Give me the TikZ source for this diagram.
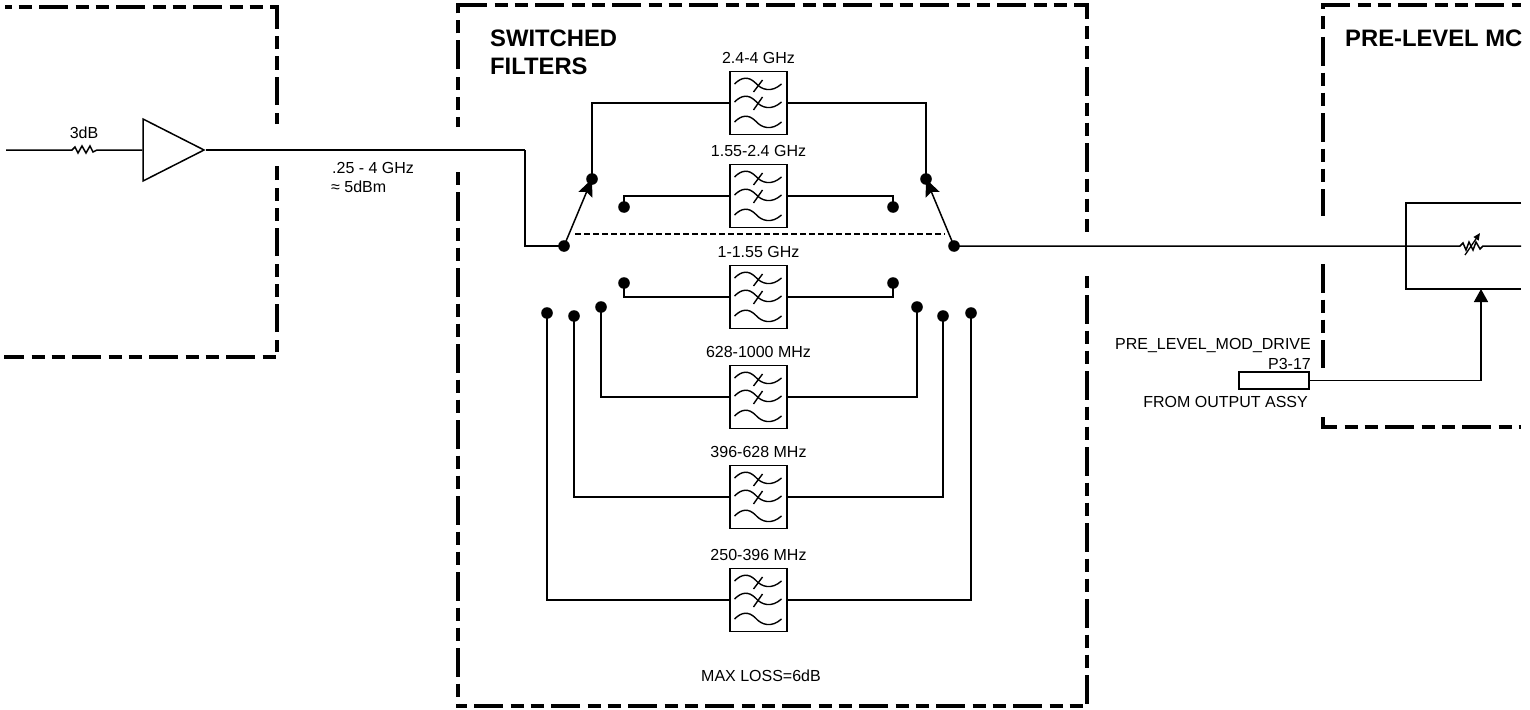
\documentclass[tikz,border=0pt]{standalone}
\usepackage{fontspec}
\setmainfont{Liberation Sans}
\usetikzlibrary{positioning,arrows.meta,shapes.geometric}

\begin{document}
\begin{tikzpicture}[x=1pt,y=-1pt]
    \useasboundingbox (0,0) rectangle (1530,709);

    % Styles of lines and text
    \tikzset{
        c_wire/.style={line width=1.5pt},
        c_boxh/.style={line width=4.5pt, dash pattern=on 29pt off 7.5pt on 13pt off 7pt on 13pt off 7.5pt, dash phase=#1pt},
        c_boxv/.style={line width=4.5pt, dash pattern=on 28.5pt off 7pt on 13pt off 7pt on 13pt off 7.5pt, dash phase=#1pt},
        c_flt/.style={draw, line width=1.5pt, minimum width=57pt, minimum height=63pt, inner sep=0pt},
        c_amp/.style={draw, line width=1.5pt, isosceles triangle, isosceles triangle stretches, minimum width=62pt, minimum height=61pt, inner sep=0pt, anchor=apex},
        c_txt/.style={font=\fontsize{16}{18}\selectfont, inner sep=0pt},
        c_head/.style={font=\fontsize{23.8}{28}\selectfont\bfseries, inner sep=0pt, anchor=west},
        c_tip/.style={-{Stealth[length=17pt,width=15pt,inset=3pt]}}
    }

    % Dashed box at the left, with its gap at the wire
    \draw[c_boxh=9] (4,357) -- (277,357);
    \draw[c_boxv=56] (277,352) -- (277,166);
    \draw[c_boxv=57] (277,124) -- (277,5);
    \draw[c_boxh=43] (5,7) -- (278,7);

    % Dashed box of the filters
    \draw[c_boxv=18] (458,127) -- (458,3);
    \draw[c_boxv=56] (458,172) -- (458,705);
    \draw[c_boxh=0] (458,5) -- (1089,5);
    \draw[c_boxv=14] (1087,5) -- (1087,232);
    \draw[c_boxv=57] (1087,276) -- (1087,706);
    \draw[c_boxh=59] (456,706) -- (1085,706);

    % Dashed box at the right
    \draw[c_boxv=44] (1323,5) -- (1323,216);
    \draw[c_boxv=0] (1323,264) -- (1323,368);
    \draw[line width=4.5pt] (1323,417) -- (1323,428);
    \draw[c_boxh=0] (1321,5) -- (1521,5);
    \draw[c_boxh=13] (1321,427) -- (1521,427);

    \node[c_head] (hsw) at (490,38) {SWITCHED};
    \node[c_head] (hfl) at (490,66) {FILTERS};
    \node[c_head] (hpre) at (1345,38) {PRE-LEVEL MC};

    % Switch points
    \coordinate (sw_l) at (564,246);
    \coordinate (sw_r) at (954,246);
    \coordinate (af_l) at (592,179);
    \coordinate (af_r) at (926,179);
    \coordinate (bf_l) at (624,207);
    \coordinate (bf_r) at (893,207);
    \coordinate (cf_l) at (624,283);
    \coordinate (cf_r) at (893,283);
    \coordinate (df_l) at (601,307);
    \coordinate (df_r) at (917,307);
    \coordinate (ef_l) at (574,316);
    \coordinate (ef_r) at (943,316);
    \coordinate (ff_l) at (547,313);
    \coordinate (ff_r) at (971,313);

    % Filters with their bands
    \foreach \f/\y/\t in {af/103/{2.4-4 GHz}, bf/196/{1.55-2.4 GHz}, cf/297/{1-1.55 GHz},
                          df/397/{628-1000 MHz}, ef/497/{396-628 MHz}, ff/600/{250-396 MHz}} {
        \node[c_flt] (\f) at (758.5,\y) {};
        \node[c_txt, above=7pt of \f] (\f_txt) {\t};
        \draw[c_wire] (\f.west) -| (\f_l);
        \draw[c_wire] (\f.east) -| (\f_r);
        \begin{scope}[shift={(\f.center)}, line width=1.4pt]
            \foreach \d in {-19,-1} {
                \draw (-24,\d) .. controls (-17,\d-7) and (-10,\d-8) .. (-3,\d-1)
                      .. controls (3,\d+6) and (13,\d+9) .. (23,\d);
            }
            \draw (-24,19) .. controls (-17,12) and (-10,11) .. (-3,18)
                  .. controls (3,25) and (13,28) .. (23,19);
            \draw (-5,-11) -- (4,-23);
            \draw (-5,7) -- (4,-6);
        \end{scope}
    }

    % Input, attenuator and amplifier
    \node[c_amp] (amp) at (206,150) {};
    \coordinate (in) at (6,150);
    \coordinate (att_a) at (72,150);
    \coordinate (att_b) at (97,150);
    \draw[c_wire] (in) -- (att_a) -- ++(3,-3) -- ++(3,6) -- ++(4,-7) -- ++(4,7) -- ++(4,-7) -- ++(3,6) -- (att_b) -- (amp.west);
    \node[c_txt] (att_txt) at (84,133) {3dB};
    \coordinate (bend) at (525,150);
    \draw[line width=2pt] (amp.apex) -- (bend);
    \draw[c_wire] (bend) -- (525,246) -- (sw_l);
    \node[c_txt, anchor=west] (rng) at (332,168) {.25 - 4 GHz};
    \node[c_txt, anchor=west] (pwr) at (331,187) {≈ 5dBm};

    % Switch blades and their link
    \draw[c_wire, c_tip] (sw_l) -- (af_l);
    \draw[c_wire, c_tip] (sw_r) -- (af_r);
    \draw[line width=1.3pt, dash pattern=on 5.5pt off 3.5pt] (575,234) -- (945,234);

    % Pre-level block
    \coordinate (mod_a) at (1406,289);
    \coordinate (mod_b) at (1406,203);
    \coordinate (mod_c) at (1521,203);
    \coordinate (mod_d) at (1521,289);
    \coordinate (out) at (1521,246);
    \coordinate (rv_a) at (1460,246);
    \coordinate (rv_b) at (1483,246);
    \draw[c_wire] (mod_c) -- (mod_b) -- (mod_a) -- (mod_d);
    \draw[c_wire] (sw_r) -- (rv_a) -- ++(3,-3) -- ++(3,7) -- ++(3,-8) -- ++(4,8) -- ++(3,-8) -- ++(4,7) -- (rv_b) -- (out);
    \draw[line width=1.3pt, -{Triangle[length=7pt,width=6pt]}] (1465,255) -- (1480,233);

    % Drive connector
    \node[draw, line width=1.3pt, minimum width=70pt, minimum height=17pt, inner sep=0pt] (drv) at (1274,380.5) {};
    \coordinate (drv_up) at (1481,289);
    \draw[c_wire, -{Triangle[length=13pt,width=14pt]}] (drv.east) -| (drv_up);
    \node[c_txt, anchor=east] (drv_a) at (1311,345) {PRE\_LEVEL\_MOD\_DRIVE};
    \node[c_txt, anchor=east] (drv_b) at (1311,364) {P3-17};
    \node[c_txt, anchor=east] (drv_c) at (1308,402) {FROM OUTPUT ASSY};

    \node[c_txt] (loss) at (761,676) {MAX LOSS=6dB};

    % Contact dots
    \foreach \p in {sw_l,sw_r,af_l,af_r,bf_l,bf_r,cf_l,cf_r,df_l,df_r,ef_l,ef_r,ff_l,ff_r} {
        \fill (\p) circle (5.8pt);
    }
\end{tikzpicture}
\end{document}
